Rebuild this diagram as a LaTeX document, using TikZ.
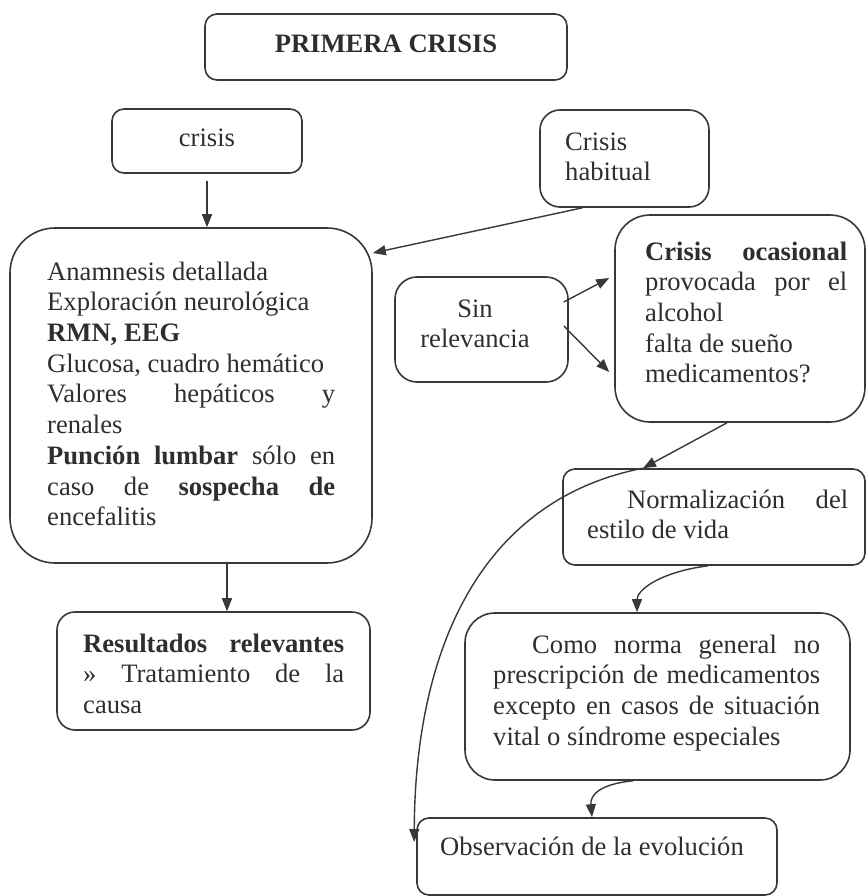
\documentclass[tikz,border=0pt]{standalone}
\usepackage{fontspec}
\setmainfont{Liberation Serif}
\usetikzlibrary{arrows.meta,calc}
\newcommand{\jl}[2]{\makebox[#1][s]{#2}}
\begin{document}
\begin{tikzpicture}[x=1pt,y=-1pt,
  box/.style={draw=black!78, line width=1.6pt, inner sep=0pt},
  txt/.style={inner sep=0pt, text=black!82, font=\fontsize{26.6}{30.7}\selectfont, align=left},
  arr/.style={draw=black!78, line width=1.4pt, -{Triangle[length=13pt,width=10pt]}}]
\useasboundingbox (0,0) rectangle (866,896);

% boxes
\node[box, minimum width=362pt, minimum height=66pt, rounded corners=12pt] (prim) at (386,47) {};
\node[box, minimum width=190pt, minimum height=64pt, rounded corners=12pt] (crisis) at (207,141) {};
\node[box, minimum width=169pt, minimum height=97pt, rounded corners=20pt] (hab) at (624.5,158.5) {};
\node[box, minimum width=362pt, minimum height=335pt, rounded corners=45pt] (anam) at (191,395.5) {};
\node[box, minimum width=313pt, minimum height=118pt, rounded corners=18pt] (res) at (213.5,671) {};
\node[box, minimum width=173pt, minimum height=105pt, rounded corners=22pt] (sin) at (481.5,329.5) {};
\node[box, minimum width=250pt, minimum height=207pt, rounded corners=35pt] (ocas) at (740,318.5) {};
\node[box, minimum width=302pt, minimum height=96pt, rounded corners=12pt] (norm) at (714,517) {};
\node[box, minimum width=385pt, minimum height=167pt, rounded corners=30pt] (como) at (657.5,696.5) {};
\node[box, minimum width=360pt, minimum height=77pt, rounded corners=12pt] (obs) at (597,856.5) {};

% texts
\node[txt, anchor=base] (tprim) at (386,53) {\textbf{PRIMERA CRISIS}};
\node[txt, anchor=base] (tcrisis) at (207,147) {crisis};
\node[txt, anchor=north west] (thab) at (565,128.5) {\strut Crisis\\habitual};
\node[txt, anchor=north west] (tanam) at (47,258.5) {\strut Anamnesis detallada\\
Exploración neurológica\\
\textbf{RMN, EEG}\\
Glucosa, cuadro hemático\\
\jl{288pt}{Valores hepáticos y}\\
renales\\
\jl{288pt}{\textbf{Punción lumbar} sólo en}\\
\jl{288pt}{caso de \textbf{sospecha de}}\\
encefalitis};
\node[txt, anchor=north west] (tres) at (83,630.5) {\strut\jl{261pt}{\textbf{Resultados relevantes}}\\
\jl{261pt}{» Tratamiento de la}\\
causa};
\node[txt, anchor=north, align=center] (tsin) at (475,295.5) {\strut Sin\\relevancia};
\node[txt, anchor=north west] (tocas) at (645,238.5) {\strut\jl{202pt}{\textbf{Crisis ocasional}}\\
\jl{202pt}{provocada por el}\\
alcohol\\
falta de sueño\\
medicamentos?};
\node[txt, anchor=north west] (tnorm) at (587,486.5) {\strut\jl{261pt}{\hspace{40pt}Normalización del}\\
estilo de vida};
\node[txt, anchor=north west] (tcomo) at (493,631.5) {\strut\jl{327pt}{\hspace{39pt}Como norma general no}\\
\jl{327pt}{prescripción de medicamentos}\\
\jl{327pt}{excepto en casos de situación}\\
vital o síndrome especiales};
\node[txt, anchor=base west] (tobs) at (440,855) {Observación de la evolución};

% connectors
\coordinate (nin) at ([xshift=-71pt]norm.north);
\draw[arr, shorten <=7pt] (crisis.south) -- (crisis.south |- anam.north);
\draw[arr] ($(hab.south west)!0.254!(hab.south east)$) -- ([yshift=142.5pt]anam.east);
\draw[arr] ([xshift=36pt]anam.south) -- ([xshift=36pt]anam.south |- res.north);
\draw[arr] ([xshift=-5pt,yshift=27.5pt]sin.east) -- ([xshift=-5pt,yshift=40.5pt]ocas.west);
\draw[arr] ([xshift=-5pt,yshift=3.5pt]sin.east) -- ([xshift=-5pt,yshift=-53.5pt]ocas.west);
\draw[arr] ([xshift=-13pt]ocas.south) -- (nin);
\draw[arr] (nin) .. controls (480,500) and (415,650) .. ([xshift=-2pt,yshift=14.5pt]obs.west);
\draw[arr] ([xshift=-6pt]norm.south) .. controls (660,572) and (637,590) .. ([xshift=-20.5pt]como.north);
\draw[arr] ([xshift=-24.5pt]como.south) .. controls (600,784) and (590,795) .. ([xshift=-5pt]obs.north);
\end{tikzpicture}
\end{document}
